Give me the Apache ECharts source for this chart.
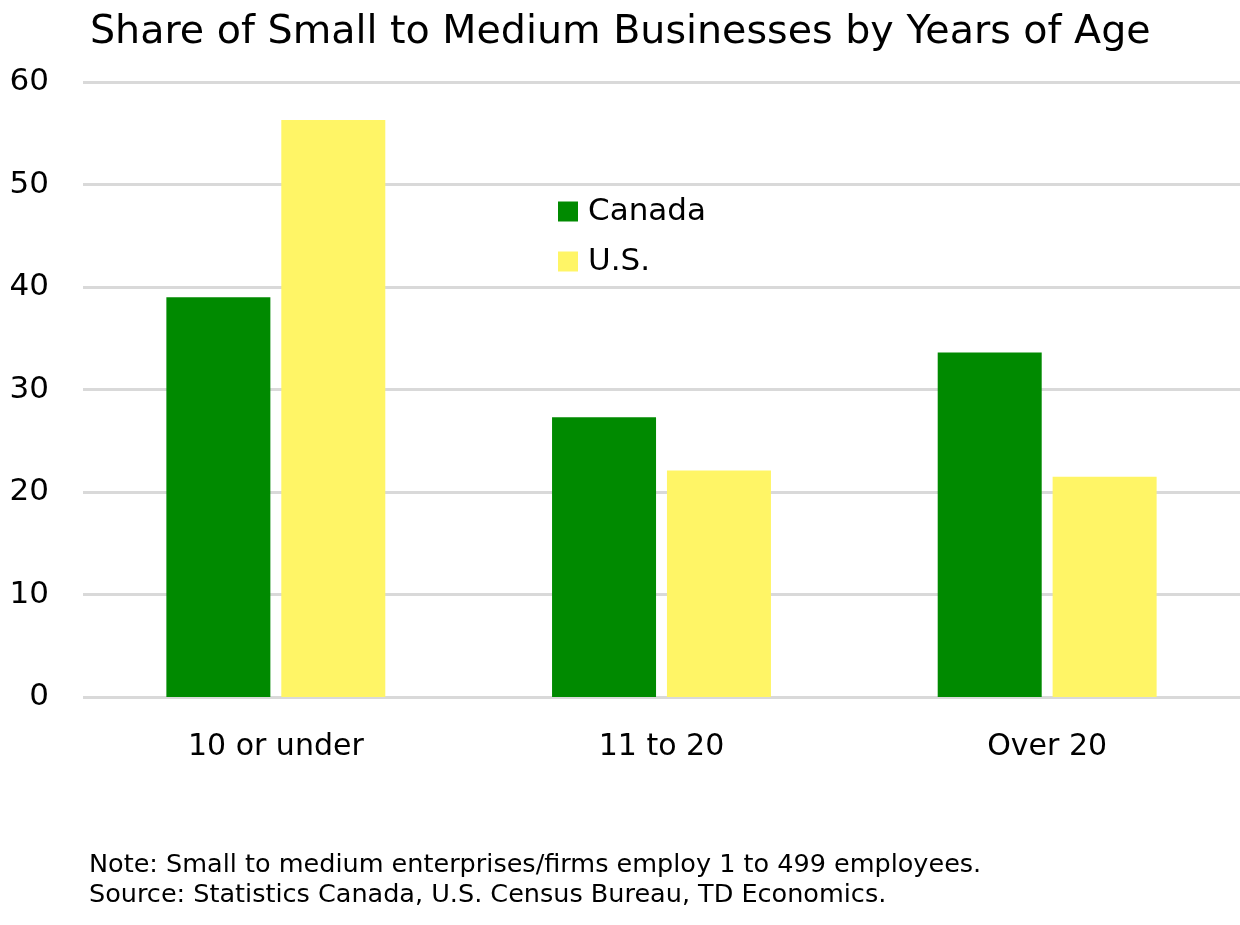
<!DOCTYPE html>
<html><head><meta charset="utf-8">
<script src="https://cdn.jsdelivr.net/npm/echarts@6/dist/echarts.min.js"></script>
<style>html,body{margin:0;padding:0;background:#fff}#c{width:1240px;height:925px}</style>
</head><body><div id="c"></div>
<script>
const categories = ['10 or under', '11 to 20', 'Over 20'];
const canada = [39.0, 27.3, 33.6];
const us = [56.3, 22.1, 21.5];
const yTicks = [0, 10, 20, 30, 40, 50, 60];
const FONT = 'DejaVu Sans';
const chart = echarts.init(document.getElementById('c'));
chart.setOption({
  backgroundColor: '#fff',
  animation: false,
  title: {
    text: 'Share of Small to Medium Businesses by Years of Age',
    left: 85, top: 8,
    textStyle: {fontFamily: FONT, fontSize: 39.6, fontWeight: 'normal', color: '#000'}
  },
  graphic: [{
    type: 'text', left: 89, top: 850,
    style: {text: 'Note: Small to medium enterprises/firms employ 1 to 499 employees.\nSource: Statistics Canada, U.S. Census Bureau, TD Economics.',
      font: '25.5px "' + FONT + '"', fill: '#000', lineHeight: 30}
  }],
  legend: {
    orient: 'vertical', left: 553, top: 191, itemGap: 19,
    itemWidth: 20, itemHeight: 20, icon: 'rect',
    textStyle: {fontFamily: FONT, fontSize: 31, color: '#000', padding: [0,0,0,5]},
    data: ['Canada', 'U.S.']
  },
  grid: {left: 83, right: 0, top: 82, bottom: 228, containLabel: false},
  xAxis: {
    type: 'category', data: categories,
    axisLine: {show: false}, axisTick: {show: false},
    axisLabel: {fontFamily: FONT, fontSize: 30, color: '#000', margin: 35}
  },
  yAxis: {
    type: 'value', min: 0, max: 60, interval: 10,
    axisLine: {show: false}, axisTick: {show: false},
    axisLabel: {fontFamily: FONT, fontSize: 31, color: '#000', margin: 34,
      formatter: v => yTicks.includes(v) ? String(v) : ''},
    splitLine: {lineStyle: {color: '#d9d9d9', width: 3}}
  },
  series: [
    {name: 'Canada', type: 'bar', data: canada, barWidth: 104, barGap: '10.5%', itemStyle: {color: '#008a00'}},
    {name: 'U.S.', type: 'bar', data: us, barWidth: 104, itemStyle: {color: '#fff566'}}
  ]
});
</script></body></html>
